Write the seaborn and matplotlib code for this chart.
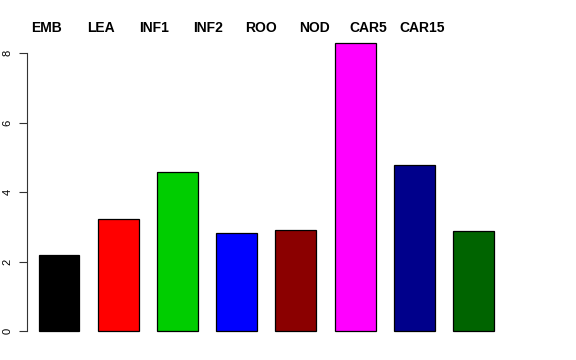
import matplotlib
matplotlib.use("Agg")
import matplotlib.pyplot as plt
import seaborn as sns
import pandas as pd

categories = ["EMB", "LEA", "INF1", "INF2", "ROO", "NOD", "CAR5", "CAR15"]
values = [2.19, 3.22, 4.57, 2.82, 2.90, 8.29, 4.77, 2.87]
colors = ["#000000", "#FF0000", "#00CD00", "#0000FF", "#8B0000", "#FF00FF", "#00008B", "#006400"]
yticks = [0, 2, 4, 6, 8]

sns.set_style("white")
plt.rcParams["font.family"] = ["Liberation Sans", "DejaVu Sans"]

df = pd.DataFrame({"cat": categories, "val": values})

fig = plt.figure(figsize=(5.76, 3.6), dpi=100)
ax = fig.add_axes([27/576, 17.5/360, (505-27)/576, (342.5-31.5)/360])
sns.barplot(data=df, x="cat", y="val", hue="cat", palette=colors, legend=False,
            width=0.69, edgecolor="black", linewidth=0.9, saturation=1, ax=ax)

ax.set_xlim(-0.54, 7.53)
ax.set_ylim(-0.33, 8.62)
ax.set_xlabel("")
ax.set_ylabel("")
ax.set_xticks([])
ax.set_yticks(yticks)
ax.set_yticklabels([str(t) for t in yticks], rotation=90, va="center", fontsize=8, color="black")
ax.tick_params(axis="y", length=5.5, width=0.8, color="#333333", pad=5, left=True)
for s in ["top", "right", "bottom"]:
    ax.spines[s].set_visible(False)
ax.spines["left"].set_bounds(0, 8)
ax.spines["left"].set_color("#333333")
ax.spines["left"].set_linewidth(0.8)

# category labels along the top
for i, c in enumerate(categories):
    xpix = 47 + 53.6 * i
    fig.text(xpix / 576, 1 - 28 / 360, c, ha="center", va="center",
             fontsize=10, fontweight="bold", color="black")

fig.savefig("out.png", dpi=100)
